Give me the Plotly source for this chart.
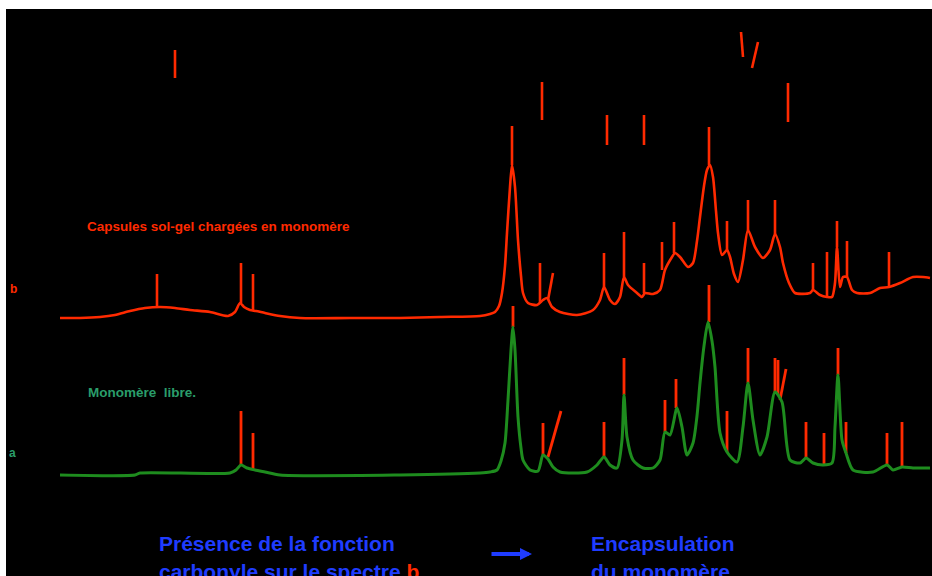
import plotly.graph_objects as go

# ---- spectrum b (sol-gel capsules loaded with monomer), red ----
b_pos = [60, 80, 100, 115, 130, 145, 160, 175, 190, 210, 228, 235, 240, 244, 250, 256, 265, 280, 300, 350,
         400, 440, 480, 490, 495, 499, 502, 505, 507, 510, 512, 515, 518, 521, 523, 528, 537, 543, 547, 552,
         560, 577, 593, 600, 604, 610, 615, 620, 624, 628, 637, 642, 645, 653, 660, 665, 672, 675, 680, 688,
         693, 697, 700, 704, 707, 710, 713, 716, 718, 722, 727, 730, 734, 738, 743, 748, 755, 763, 770, 775,
         780, 783, 789, 795, 810, 813, 820, 827, 832, 835, 837, 840, 843, 847, 852, 857, 870, 880, 889, 900,
         913, 923, 930]
b_int = [258, 258, 259, 261, 265, 268, 269, 268, 266, 264, 260, 264, 273, 269, 266, 265, 263, 260, 258, 258,
         258, 259, 260, 262, 264, 270, 283, 310, 343, 389, 411, 389, 336, 300, 283, 273, 271, 276, 278, 269,
         264, 261, 266, 276, 289, 276, 272, 279, 299, 291, 283, 279, 283, 282, 286, 306, 319, 323, 319, 309,
         313, 335, 359, 390, 406, 411, 399, 365, 343, 321, 326, 319, 302, 294, 316, 346, 329, 318, 326, 342,
         329, 313, 293, 283, 283, 286, 281, 279, 279, 293, 329, 289, 299, 299, 286, 283, 283, 288, 289, 293,
         299, 299, 298]

# ---- spectrum a (free monomer), green ----
a_pos = [60, 135, 140, 230, 236, 241, 247, 255, 265, 280, 400, 480, 490, 497, 501, 505, 508, 511, 513, 515,
         518, 521, 523, 530, 538, 543, 548, 553, 560, 587, 597, 604, 610, 617, 622, 624, 627, 633, 643, 653,
         660, 665, 670, 677, 682, 687, 693, 697, 700, 704, 708, 712, 715, 720, 727, 737, 743, 748, 753, 760,
         767, 775, 782, 790, 800, 806, 813, 823, 832, 835, 838, 842, 846, 853, 873, 887, 893, 902, 913, 930]
a_int = [101, 101, 103, 103, 106, 111, 108, 106, 104, 101, 101, 103, 104, 106, 115, 133, 176, 226, 249, 226,
         159, 128, 116, 106, 105, 121, 117, 109, 104, 104, 111, 119, 111, 108, 136, 181, 139, 116, 108, 108,
         116, 144, 141, 168, 149, 121, 133, 160, 193, 230, 254, 235, 209, 143, 124, 114, 149, 193, 156, 121,
         139, 184, 174, 116, 113, 118, 113, 111, 113, 149, 201, 136, 123, 106, 104, 111, 106, 109, 108, 108]

# ---- peak markers (x0, y0, x1, y1) ----
b_marks = [(157, 269, 157, 302), (241, 273, 241, 313), (253, 266, 253, 302), (512, 411, 512, 450),
           (540, 273, 540, 313), (548, 276, 553, 303), (604, 289, 604, 323), (624, 299, 624, 344),
           (644, 283, 644, 313), (662, 306, 662, 334), (674, 323, 674, 354), (709, 411, 709, 449),
           (727, 326, 727, 355), (748, 346, 748, 376), (775, 342, 775, 376), (813, 286, 813, 313),
           (827, 279, 827, 324), (837, 329, 837, 355), (847, 299, 847, 335), (889, 289, 889, 324)]
a_marks = [(241, 111, 241, 165), (253, 106, 253, 143), (513, 249, 513, 270), (543, 121, 543, 153),
           (548, 119, 561, 165), (604, 119, 604, 154), (624, 181, 624, 218), (665, 144, 665, 176),
           (676, 168, 676, 197), (709, 254, 709, 291), (727, 124, 727, 165), (748, 193, 748, 228),
           (775, 184, 775, 218), (778, 181, 778, 216), (780, 176, 786, 207), (806, 118, 806, 154),
           (824, 111, 824, 143), (838, 201, 838, 228), (846, 123, 846, 154), (887, 111, 887, 143),
           (902, 109, 902, 154)]
label_marks = [(175, 498, 175, 526), (542, 456, 542, 494), (607, 431, 607, 461), (644, 431, 644, 461),
               (743, 519, 741, 544), (752, 508, 758, 534), (788, 454, 788, 493)]

RED = "#ff2a00"
GREEN = "#1e8c1e"
TEAL = "#2a9d6a"
BLUE = "#1f3cff"


def seg_xy(marks):
    xs, ys = [], []
    for x0, y0, x1, y1 in marks:
        xs += [x0, x1, None]
        ys += [y0, y1, None]
    return xs, ys


fig = go.Figure()

mx, my = seg_xy(b_marks + label_marks)
fig.add_trace(go.Scatter(x=mx, y=my, mode="lines", line=dict(color=RED, width=2.6), hoverinfo="skip"))
fig.add_trace(go.Scatter(x=b_pos, y=b_int, mode="lines",
                         line=dict(color=RED, width=2.6, shape="spline", smoothing=0.7), name="b"))
mx, my = seg_xy(a_marks)
fig.add_trace(go.Scatter(x=mx, y=my, mode="lines", line=dict(color=RED, width=2.8), hoverinfo="skip"))
fig.add_trace(go.Scatter(x=a_pos, y=a_int, mode="lines",
                         line=dict(color=GREEN, width=3, shape="spline", smoothing=0.7), name="a"))

FONT = "Liberation Sans, Arial, sans-serif"
ann = []
ann.append(dict(x=85, y=350, text="<b>Capsules sol-gel chargées en monomère</b>", xanchor="left",
                yanchor="middle", font=dict(color=RED, size=13.5, family=FONT)))
ann.append(dict(x=86, y=184, text="<b>Monomère  libre.</b>", xanchor="left", yanchor="middle",
                font=dict(color=TEAL, size=13.5, family=FONT)))
ann.append(dict(x=8, y=287, text="<b>b</b>", xanchor="left", yanchor="middle",
                font=dict(color=RED, size=12, family=FONT)))
ann.append(dict(x=7, y=123, text="<b>a</b>", xanchor="left", yanchor="middle",
                font=dict(color=TEAL, size=12, family=FONT)))
ann.append(dict(x=157, y=33, text="<b>Présence de la fonction</b>", xanchor="left", yanchor="middle",
                font=dict(color=BLUE, size=21, family=FONT)))
ann.append(dict(x=157, y=4.5, text="<b>carbonyle sur le spectre <span style='color:#ff2a00'>b</span></b>",
                xanchor="left", yanchor="middle", font=dict(color=BLUE, size=21, family=FONT)))
ann.append(dict(x=589, y=33, text="<b>Encapsulation</b>", xanchor="left", yanchor="middle",
                font=dict(color=BLUE, size=21, family=FONT)))
ann.append(dict(x=589, y=4.5, text="<b>du monomère</b>", xanchor="left", yanchor="middle",
                font=dict(color=BLUE, size=21, family=FONT)))
ann.append(dict(x=532, y=22, ax=490, ay=22, axref="x", ayref="y", text="", showarrow=True,
                arrowhead=2, arrowsize=0.6, arrowwidth=4, arrowcolor=BLUE))
for a in ann:
    a.setdefault("showarrow", False)
    a.setdefault("xref", "x")
    a.setdefault("yref", "y")

fig.update_layout(
    width=932, height=576,
    margin=dict(l=6, r=0, t=9, b=0),
    paper_bgcolor="white", plot_bgcolor="black",
    showlegend=False,
    annotations=ann,
    xaxis=dict(range=[6, 932], visible=False, showgrid=False, zeroline=False),
    yaxis=dict(range=[0, 567], visible=False, showgrid=False, zeroline=False),
)
fig.write_html("out.html", config={"displayModeBar": False},
               post_script="document.body.style.margin='0';document.body.style.overflow='hidden';")
